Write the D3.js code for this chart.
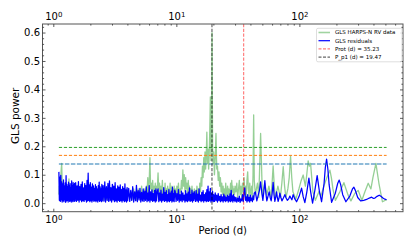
<!DOCTYPE html>
<html><head><meta charset="utf-8">
<script src="https://cdn.jsdelivr.net/npm/d3@7"></script>
<style>body{margin:0;background:#fff}svg{display:block;font-family:"DejaVu Sans",sans-serif}</style>
</head><body><svg id="c" width="415" height="249"></svg>
<script>
// ---------- DATA ----------
// Short-period band (days), shared grid for both periodograms
const periodShort = [
1.11,1.12,1.13,1.14,1.15,1.16,1.17,1.18,1.19,1.20,
1.21,1.22,1.23,1.24,1.25,1.26,1.27,1.28,1.29,1.30,
1.31,1.32,1.33,1.34,1.35,1.36,1.37,1.38,1.39,1.40,
1.41,1.42,1.43,1.44,1.45,1.46,1.47,1.48,1.49,1.50,
1.52,1.54,1.56,1.58,1.60,1.62,1.64,1.66,1.68,1.70,
1.72,1.74,1.76,1.78,1.80,1.82,1.84,1.86,1.88,1.90,
1.92,1.94,1.96,1.98,2.00,2.02,2.04,2.06,2.08,2.10,
2.12,2.14,2.16,2.18,2.20,2.22,2.24,2.26,2.28,2.30,
2.32,2.34,2.36,2.38,2.40,2.42,2.44,2.46,2.48,2.50,
2.54,2.58,2.62,2.66,2.70,2.74,2.78,2.82,2.86,2.90,
2.94,2.98,3.02,3.06,3.10,3.14,3.18,3.22,3.26,3.30,
3.34,3.38,3.42,3.46,3.50,3.54,3.58,3.62,3.66,3.70,
3.74,3.78,3.82,3.86,3.90,3.94,3.98,4.02,
4.10,4.18,4.26,4.34,4.42,4.50,4.58,4.66,4.74,4.82,
4.90,4.98,5.06,5.14,5.22,5.30,5.38,5.46,5.54,5.62,
5.70,5.78,5.86,5.94,6.02,6.10,6.18,6.26,6.34,6.42,
6.50,6.58,6.66,6.74,6.82,6.90,6.98,
7.1,7.2,7.3,7.4,7.5,7.6,7.7,7.8,7.9,8.0,
8.1,8.2,8.3,8.4,8.5,8.6,8.7,8.8,8.9,9.0,
9.1,9.2,9.3,9.4,9.5,9.6,9.7];
const residShort = [
.110,.010,.092,.006,.098,.012,.075,.004,.068,.009,
.082,.005,.060,.012,.071,.003,.097,.008,.066,.010,
.058,.004,.074,.011,.062,.006,.069,.009,.055,.004,
.078,.010,.060,.005,.072,.012,.064,.006,.070,.009,
.072,.006,.061,.010,.076,.004,.058,.011,.066,.005,
.075,.009,.054,.006,.069,.012,.062,.004,.080,.008,
.106,.010,.064,.005,.072,.009,.056,.004,.068,.011,
.061,.006,.052,.010,.065,.005,.058,.009,.049,.004,
.062,.011,.074,.006,.057,.010,.050,.005,.066,.008,
.062,.007,.075,.004,.058,.010,.070,.006,.078,.009,
.055,.004,.066,.011,.060,.005,.072,.008,.050,.004,
.061,.010,.056,.006,.064,.009,.048,.004,.058,.010,
.052,.005,.068,.008,.047,.004,.055,.009,
.052,.006,.045,.010,.058,.004,.040,.009,.063,.005,
.044,.011,.052,.004,.038,.008,.050,.006,.042,.010,
.057,.005,.036,.009,.062,.004,.040,.010,.047,.006,
.034,.009,.045,.004,.050,.008,.038,
.050,.005,.036,.009,.046,.004,.032,.010,.055,.006,
.038,.009,.044,.004,.030,.008,.048,.005,.035,.010,
.042,.004,.056,.008,.034,.005,.046];
const rvShort = [
.03,.06,.02,.05,.09,.12,.14,.07,.02,.04,
.01,.05,.03,.06,.02,.04,.01,.05,.03,.06,
.02,.05,.04,.085,.03,.05,.02,.04,.01,.05,
.03,.04,.02,.05,.01,.04,.03,.05,.02,.04,
.03,.05,.02,.04,.01,.05,.03,.06,.02,.04,
.03,.05,.01,.04,.02,.05,.03,.06,.02,.05,
.03,.04,.01,.05,.03,.04,.02,.05,.01,.04,
.03,.05,.02,.04,.01,.05,.03,.04,.02,.05,
.03,.04,.01,.06,.02,.04,.03,.05,.01,.04,
.03,.01,.04,.02,.05,.01,.03,.04,.02,.05,
.03,.01,.04,.02,.05,.03,.01,.04,.02,.03,
.05,.01,.04,.02,.03,.05,.02,.04,.01,.03,
.05,.02,.04,.01,.03,.05,.02,.04,
.03,.02,.04,.01,.03,.05,.02,.04,.01,.03,
.05,.02,.04,.03,.06,.02,.04,.01,.05,.03,
.06,.04,.09,.03,.08,.16,.05,.07,.03,.08,
.04,.06,.02,.07,.03,.06,.04,
.106,.04,.07,.02,.06,.03,.08,.02,.05,.03,
.07,.01,.05,.04,.06,.02,.05,.03,.07,.02,
.04,.06,.03,.05,.02,.06,.03];

// Mid-period band (days)
const periodMid = [
9.80,9.95,10.10,10.25,10.40,10.55,10.70,10.85,11.00,11.15,
11.30,11.45,11.60,11.75,11.90,12.05,12.20,12.35,12.50,12.65,
12.80,12.95,13.10,13.25,13.40,13.55,13.70,13.85,14.00,
14.3,14.5,14.7,14.9,15.1,15.3,15.5,15.7,15.9,16.1,
16.3,16.5,16.7,16.9,17.1,17.3,17.5,17.7,17.9,18.1,
18.3,18.5,18.7,18.9,19.1,19.3,19.5,19.7,19.9,20.1,
20.4,20.7,21.0,21.3,21.6,21.9,22.2,22.5,22.8,23.1,
23.4,23.7,24.0,24.3,24.6,24.9,25.2,25.5,25.8,26.1,
26.4,26.7,27.0,27.3,27.6,27.9,28.2,28.5,28.8,29.1,
29.4,29.7,30.0,
30.5,31.0,31.5,32.0,32.5,33.0,33.5,34.0,34.5,35.0,
35.5,36.0,36.5,37.0,37.5,38.0,38.5,39.0,39.5,40.0,
40.5,41.0,41.5,42.0,42.5,43.0];
const residMid = [
.040,.006,.034,.010,.048,.004,.030,.009,.042,.005,
.036,.011,.028,.004,.044,.008,.033,.005,.039,.010,
.054,.006,.030,.009,.046,.004,.035,.010,.041,
.006,.045,.008,.032,.004,.050,.010,.028,.005,.038,
.009,.044,.004,.030,.010,.036,.005,.048,.008,.060,
.006,.040,.010,.052,.004,.034,.009,.042,.005,.030,
.006,.036,.009,.028,.004,.034,.010,.024,.005,.030,
.008,.022,.004,.032,.009,.026,.005,.020,.010,.028,
.004,.024,.008,.033,.005,.045,.009,.026,.004,.030,
.010,.022,.005,
.020,.004,.018,.006,.025,.003,.015,.008,.030,.005,
.040,.054,.010,.022,.004,.030,.008,.020,.004,.028,
.010,.018,.005,.026,.012,.035];
const rvMid = [
.05,.02,.06,.03,.07,.02,.05,.04,.08,.05,
.117,.06,.10,.04,.09,.05,.07,.03,.08,.04,
.06,.02,.05,.03,.06,.02,.04,.03,.05,
.04,.02,.06,.03,.05,.02,.07,.04,.09,.06,
.13,.09,.16,.11,.18,.12,.17,.25,.14,.19,
.12,.17,.26,.374,.15,.22,.60,.20,.14,.18,
.10,.16,.245,.12,.13,.08,.11,.06,.09,.04,
.07,.03,.06,.02,.05,.03,.07,.02,.04,.06,
.03,.05,.02,.04,.07,.03,.08,.04,.06,.02,
.05,.03,.06,
.04,.07,.02,.05,.08,.03,.06,.02,.07,.04,
.09,.03,.06,.02,.08,.11,.05,.02,.07,.04,
.03,.06,.02,.10,.31,.08];

// Long-period band: [period (d), GLS power]
const residLong = [
[43.9,.040],[45.1,.008],[46.4,.030],[47.4,.045],[48.4,.075],[49.4,.040],[50.5,.010],[51.4,.040],
[52.4,.079],[53.4,.035],[54.4,.008],[55.6,.025],[56.8,.040],[57.9,.020],[59.0,.008],[60.1,.035],
[61.2,.073],[62.2,.030],[63.2,.006],[64.2,.020],[65.3,.040],[66.2,.020],[67.2,.006],[68.3,.018],
[69.4,.035],[70.8,.020],[72.1,.008],[74.1,.018],[76.2,.030],[78.0,.018],[79.9,.010],[81.8,.015],
[83.7,.025],[85.3,.018],[86.9,.012],[89.0,.030],[91.9,.015],[94.9,.005],[99.5,.024],[104.2,.053],
[107.5,.022],[110.8,.002],[115.0,.040],[119.5,.088],[123.7,.038],[128.0,.000],[133.6,.045],[139.5,.097],
[145.4,.042],[151.5,.005],[158.8,.070],[162.5,.125],[166.4,.155],[170.4,.120],[174.5,.065],[182.8,.003],
[196.0,.035],[205.0,.070],[210.7,.081],[216.5,.065],[225.0,.030],[238.8,.005],[257.0,.025],[270.0,.050],
[277.4,.056],[285.0,.045],[298.0,.020],[314.6,.008],[333.0,.010],[351.8,.013],[370.0,.018],[386.4,.021],
[398.0,.017],[411.1,.018],[428.0,.024],[445.5,.028],[460.0,.024],[477.5,.018],[495.0,.014],[511.7,.012]];
const rvLong = [
[43.9,.03],[45.6,.07],[46.8,.02],[48.4,.245],[50.0,.03],[52.4,.07],[54.4,.03],[56.5,.06],
[58.7,.02],[60.0,.07],[61.2,.131],[62.5,.06],[63.8,.02],[66.9,.06],[70.1,.02],[72.0,.07],
[73.9,.128],[75.8,.06],[77.7,.02],[80.6,.05],[82.7,.09],[84.8,.165],[86.7,.09],[88.6,.04],
[93.7,.015],[99.1,.05],[103.5,.08],[107.4,.099],[111.9,.06],[114.8,.10],[117.9,.149],[120.6,.13],
[123.3,.14],[126.0,.09],[128.8,.04],[134.9,.01],[144.0,.04],[149.6,.025],[158.2,.06],[167.3,.09],
[177.0,.116],[182.0,.09],[187.3,.05],[196.2,.01],[213.4,.04],[230.0,.072],[248.0,.03],[262.3,.008],
[282.6,.035],[300.6,.045],[322.2,.01],[340.8,.04],[362.6,.07],[381.4,.05],[396.0,.09],[418.8,.14],
[443.0,.07],[473.0,.005],[511.7,.012]];

const fapLevels = [0.196, 0.168, 0.138];
const protPeriod = 35.23;
const pp1Period = 19.47;
const yTickValues = [0.0, 0.1, 0.2, 0.3, 0.4, 0.5, 0.6];
const xTickValues = [1, 10, 100];
const legendLabels = ["GLS HARPS-N RV data", "GLS residuals", "Prot (d) = 35.23", "P_p1 (d) = 19.47"];
const xLabel = "Period (d)";
const yLabel = "GLS power";

// ---------- LAYOUT / STYLE ----------
const M = {l: 42.5, t: 24, r: 403, b: 211.7};
const fapStyles = [
  {c: "#2ca02c", w: 1, o: 1, d: "3.2,1.8"},
  {c: "#ff7f0e", w: 1, o: 1, d: "3.2,1.8"},
  {c: "#1f77b4", w: 2, o: 0.5, d: "4.5,1.5"}];

const zip = (ps, vs) => ps.map((p, i) => [p, vs[i]]);
const resid = zip(periodShort, residShort).concat(zip(periodMid, residMid), residLong);
const rv = zip(periodShort, rvShort).concat(zip(periodMid, rvMid), rvLong);

const allP = resid.concat(rv).map(d => d[0]);
const [pmin, pmax] = d3.extent(allP);
const lo = Math.log10(pmin), hi = Math.log10(pmax), pad = (hi - lo) * 0.05;
const x = d3.scaleLog().domain([10 ** (lo - pad), 10 ** (hi + pad)]).range([M.l, M.r]);
const allV = resid.concat(rv).map(d => d[1]);
const vmax = d3.max(allV), vpad = vmax * 0.05;
const y = d3.scaleLinear().domain([-vpad, vmax + vpad]).range([M.b, M.t]);

const svg = d3.select("#c");
svg.append("defs").append("clipPath").attr("id", "clip")
  .append("rect").attr("x", M.l).attr("y", M.t).attr("width", M.r - M.l).attr("height", M.b - M.t);
const plot = svg.append("g").attr("clip-path", "url(#clip)");
const line = d3.line().x(d => x(d[0])).y(d => y(d[1]));

plot.append("path").datum(rv).attr("d", line).attr("fill", "none")
  .attr("stroke", "#2ca02c").attr("stroke-opacity", 0.5).attr("stroke-width", 1.3).attr("stroke-linejoin", "round");
plot.append("path").datum(resid).attr("d", line).attr("fill", "none")
  .attr("stroke", "#0000ff").attr("stroke-width", 1.25).attr("stroke-linejoin", "round");

fapLevels.forEach((lv, i) => {
  const s = fapStyles[i];
  plot.append("path").datum([[pmin, lv], [pmax, lv]]).attr("d", line).attr("fill", "none")
    .attr("stroke", s.c).attr("stroke-width", s.w).attr("stroke-opacity", s.o).attr("stroke-dasharray", s.d);
});

svg.append("line").attr("x1", x(protPeriod)).attr("x2", x(protPeriod)).attr("y1", M.t).attr("y2", M.b)
  .attr("stroke", "red").attr("stroke-opacity", 0.5).attr("stroke-width", 1.2).attr("stroke-dasharray", "3.2,1.6");
svg.append("line").attr("x1", x(pp1Period)).attr("x2", x(pp1Period)).attr("y1", M.t).attr("y2", M.b)
  .attr("stroke", "black").attr("stroke-opacity", 0.45).attr("stroke-width", 1.6).attr("stroke-dasharray", "3.2,1.6");

// frame
svg.append("rect").attr("x", M.l).attr("y", M.t).attr("width", M.r - M.l).attr("height", M.b - M.t)
  .attr("fill", "none").attr("stroke", "#555").attr("stroke-width", 1);

// axes
const isPow10 = v => Math.abs(Math.log10(v) - Math.round(Math.log10(v))) < 1e-9;
const minorX = x.ticks().filter(v => !isPow10(v));
const minorY = y.ticks(33).filter(v => Math.abs(v * 10 - Math.round(v * 10)) > 1e-6);

function style(g) {
  g.attr("font-family", null).attr("font-size", 10);
  g.select(".domain").remove();
  g.selectAll(".tick line").attr("stroke", "#333").attr("stroke-width", 0.8);
  g.selectAll(".tick text").attr("fill", "#000");
}
function sup(g) {
  g.selectAll(".tick text").each(function (d) {
    const t = d3.select(this);
    const e = Math.round(Math.log10(d));
    t.text(null);
    t.append("tspan").text("10");
    t.append("tspan").attr("dy", "-0.42em").attr("font-size", "7px").text(e);
  });
}
svg.append("g").attr("transform", `translate(0,${M.b})`)
  .call(d3.axisBottom(x).tickValues(xTickValues).tickSize(-3).tickPadding(4.3)).call(style).call(sup);
svg.append("g").attr("transform", `translate(0,${M.b})`)
  .call(d3.axisBottom(x).tickValues(minorX).tickSize(-1.6).tickFormat("")).call(style);
svg.append("g").attr("transform", `translate(0,${M.t})`)
  .call(d3.axisTop(x).tickValues(xTickValues).tickSize(-3).tickPadding(4)).call(style).call(sup);
svg.append("g").attr("transform", `translate(0,${M.t})`)
  .call(d3.axisTop(x).tickValues(minorX).tickSize(-1.6).tickFormat("")).call(style);
svg.append("g").attr("transform", `translate(${M.l},0)`)
  .call(d3.axisLeft(y).tickValues(yTickValues).tickSize(-3).tickPadding(2.5).tickFormat(d3.format(".1f"))).call(style);
svg.append("g").attr("transform", `translate(${M.l},0)`)
  .call(d3.axisLeft(y).tickValues(minorY).tickSize(-1.6).tickFormat("")).call(style);
svg.append("g").attr("transform", `translate(${M.r},0)`)
  .call(d3.axisRight(y).tickValues(yTickValues).tickSize(-3).tickFormat("")).call(style);
svg.append("g").attr("transform", `translate(${M.r},0)`)
  .call(d3.axisRight(y).tickValues(minorY).tickSize(-1.6).tickFormat("")).call(style);

// axis labels
svg.append("text").attr("x", (M.l + M.r) / 2).attr("y", 234).attr("text-anchor", "middle")
  .attr("font-size", 10).text(xLabel);
svg.append("text").attr("transform", `translate(18.5,${(M.t + M.b) / 2 - 2}) rotate(-90)`)
  .attr("text-anchor", "middle").attr("font-size", 10.5).text(yLabel);

// legend
const lg = svg.append("g").attr("transform", "translate(316.5,28.3)");
lg.append("rect").attr("width", 85.5).attr("height", 33.5).attr("rx", 1.5)
  .attr("fill", "#fff").attr("fill-opacity", 0.85).attr("stroke", "#d6d6d6").attr("stroke-width", 0.8);
const handles = [
  {c: "#2ca02c", o: 0.45, w: 1.6, d: null},
  {c: "#0000ff", o: 1, w: 1.2, d: null},
  {c: "red", o: 0.5, w: 1.2, d: "3,1.5"},
  {c: "black", o: 0.75, w: 1, d: "3,1.5"}];
legendLabels.forEach((lab, i) => {
  const yy = 4.2 + i * 8.2;
  const h = handles[i];
  lg.append("line").attr("x1", 2).attr("x2", 13.5).attr("y1", yy).attr("y2", yy)
    .attr("stroke", h.c).attr("stroke-opacity", h.o).attr("stroke-width", h.w).attr("stroke-dasharray", h.d);
  lg.append("text").attr("x", 18.5).attr("y", yy).attr("dy", "0.35em").attr("font-size", 5.5).text(lab);
});
</script></body></html>
